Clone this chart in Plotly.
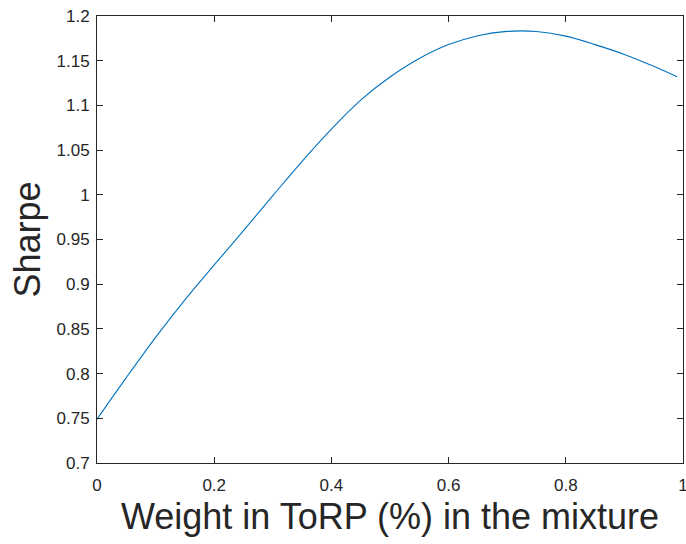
import plotly.graph_objects as go

weight = [0, 0.05, 0.10, 0.15, 0.20, 0.25, 0.30, 0.35, 0.40, 0.45, 0.50,
          0.55, 0.60, 0.65, 0.70, 0.75, 0.80, 0.85, 0.90, 0.95, 0.99]
sharpe = [0.749, 0.7955, 0.8405, 0.8825, 0.9215, 0.960, 0.999, 1.0375, 1.0735, 1.106, 1.1318,
          1.1525, 1.168, 1.178, 1.1828, 1.1826, 1.1775, 1.168, 1.157, 1.1437, 1.132]

x_ticks = [0, 0.2, 0.4, 0.6, 0.8, 1]
x_labels = ["0", "0.2", "0.4", "0.6", "0.8", "1"]
y_ticks = [0.7, 0.75, 0.8, 0.85, 0.9, 0.95, 1.0, 1.05, 1.1, 1.15, 1.2]
y_labels = ["0.7", "0.75", "0.8", "0.85", "0.9", "0.95", "1", "1.05", "1.1", "1.15", "1.2"]

axis_color = "#262626"
font_family = "Liberation Sans, Arial, Helvetica, sans-serif"

fig = go.Figure()
fig.add_trace(go.Scatter(x=weight, y=sharpe, mode="lines",
                         line=dict(color="#0072BD", width=1.1, shape="spline", smoothing=1.0),
                         showlegend=False, hoverinfo="skip"))

common = dict(showgrid=False, zeroline=False, showline=True, linecolor=axis_color,
              linewidth=1, mirror="ticks", ticks="inside", ticklen=6, tickwidth=1,
              tickcolor=axis_color, ticklabeloverflow="allow",
              tickfont=dict(family=font_family, size=17, color=axis_color))

fig.update_xaxes(range=[0, 1], tickvals=x_ticks, ticktext=x_labels,
                 ticklabelstandoff=7,
                 title=dict(text="Weight in ToRP (%) in the mixture",
                            font=dict(family=font_family, size=36, color=axis_color),
                            standoff=9),
                 **common)
fig.update_yaxes(range=[0.7, 1.2], tickvals=y_ticks, ticktext=y_labels,
                 ticklabelstandoff=3,
                 title=dict(text="Sharpe",
                            font=dict(family=font_family, size=36, color=axis_color),
                            standoff=4),
                 **common)

fig.update_layout(width=686, height=544,
                  margin=dict(l=97, r=3, t=16, b=81, autoexpand=False),
                  paper_bgcolor="white", plot_bgcolor="white",
                  font=dict(family=font_family, color=axis_color))

fig.write_html("out.html", config={"displayModeBar": False, "staticPlot": True},
               post_script="document.body.style.margin='0';document.body.style.overflow='hidden';")
